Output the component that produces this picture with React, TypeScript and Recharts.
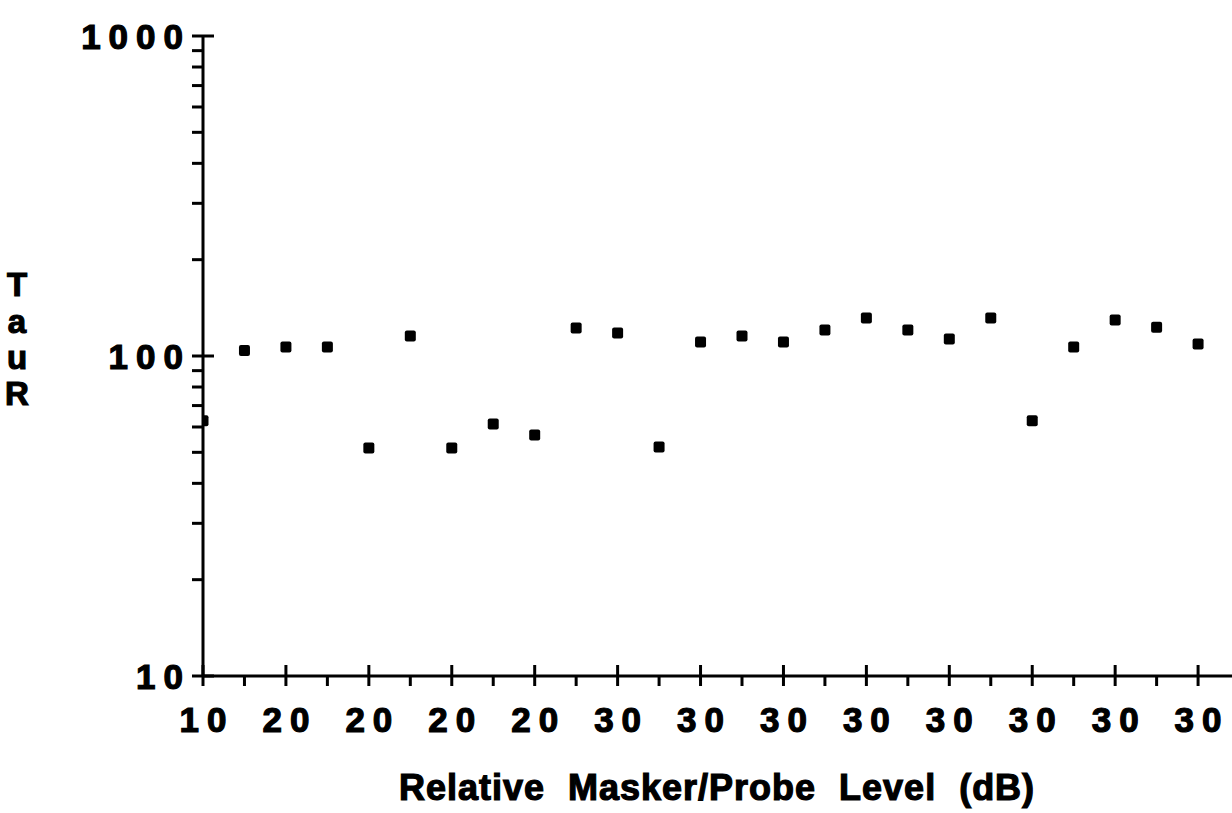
import { Label, Scatter, ScatterChart, XAxis, YAxis } from "recharts";

// relative masker/probe level, printed under every second x position
const levelLabels = ["10", "20", "20", "20", "20", "30", "30", "30", "30", "30", "30", "30", "30"];
// TauR values, one per x position (log scale)
const tauR = [
  62.7, 104, 106.7, 106.7, 51.6, 115.5, 51.6, 61.3, 56.6, 122.3, 118, 52, 110.6,
  115.5, 110.6, 120.5, 131.5, 120.5, 113, 131.5, 62.7, 106.7, 129.5, 123, 109, 113,
];
const yMajor = [10, 100, 1000];
const yTicks = [10, 20, 30, 40, 50, 60, 70, 80, 90, 100, 200, 300, 400, 500, 600, 700, 800, 900, 1000];

const data = tauR.map((tau, pos) => ({ pos, tau }));
const xTicks = tauR.map((_, i) => i).concat([tauR.length]);

const font = "'Liberation Sans', Arial, Helvetica, sans-serif";
const heavy = { fontFamily: font, fontWeight: "bold", fill: "#000", stroke: "#000", strokeWidth: 1.2 };

function XTick({ x, y, payload }: any) {
  const i = payload.value as number;
  const major = i % 2 === 0;
  return (
    <g>
      <line x1={x} x2={x} y1={major ? y - 11 : y} y2={y + 10} stroke="#000" strokeWidth={3} />
      {major && levelLabels[i / 2] && (
        <text x={x + 4} y={y + 56} textAnchor="middle" fontSize={35} letterSpacing={8} {...heavy}>
          {levelLabels[i / 2]}
        </text>
      )}
    </g>
  );
}

function YTick({ x, y, payload }: any) {
  const v = payload.value as number;
  const major = yMajor.includes(v);
  return (
    <g>
      <line x1={x - 11} x2={major ? x + 11 : x} y1={y} y2={y} stroke="#000" strokeWidth={3} />
      {major && (
        <text x={x - 12} y={y + 13} textAnchor="end" fontSize={35} letterSpacing={8} {...heavy}>
          {v}
        </text>
      )}
    </g>
  );
}

function Marker({ cx, cy }: any) {
  return <rect x={cx - 5.5} y={cy - 5.5} width={11} height={11} rx={2} fill="#000" />;
}

export default function App() {
  return (
    <div style={{ position: "absolute", left: 0, top: 0, width: 1232, height: 813, overflow: "hidden", background: "#fff" }}>
      <ScatterChart width={1300} height={813} margin={{ top: 36, right: 19, bottom: 0, left: 0 }}>
        <XAxis
          type="number"
          dataKey="pos"
          domain={[0, tauR.length]}
          ticks={xTicks}
          interval={0}
          height={137}
          tickSize={0}
          tickMargin={0}
          tick={<XTick />}
          axisLine={{ stroke: "#000", strokeWidth: 3 }}
          allowDataOverflow
        >
          <Label
            content={() => (
              <text x={717} y={800} textAnchor="middle" fontSize={36} wordSpacing={12} letterSpacing={1} {...heavy}>
                Relative Masker/Probe Level (dB)
              </text>
            )}
          />
        </XAxis>
        <YAxis
          type="number"
          dataKey="tau"
          scale="log"
          domain={[10, 1000]}
          ticks={yTicks}
          interval={0}
          width={203}
          tickSize={0}
          tickMargin={0}
          tick={<YTick />}
          axisLine={{ stroke: "#000", strokeWidth: 3 }}
          allowDataOverflow
        >
          <Label
            content={() => (
              <text textAnchor="middle" fontSize={33} {...heavy}>
                <tspan x={17} y={296}>T</tspan>
                <tspan x={17} y={333}>a</tspan>
                <tspan x={17} y={369}>u</tspan>
                <tspan x={17} y={405}>R</tspan>
              </text>
            )}
          />
        </YAxis>
        <Scatter data={data} fill="#000" shape={<Marker />} isAnimationActive={false} />
      </ScatterChart>
    </div>
  );
}
